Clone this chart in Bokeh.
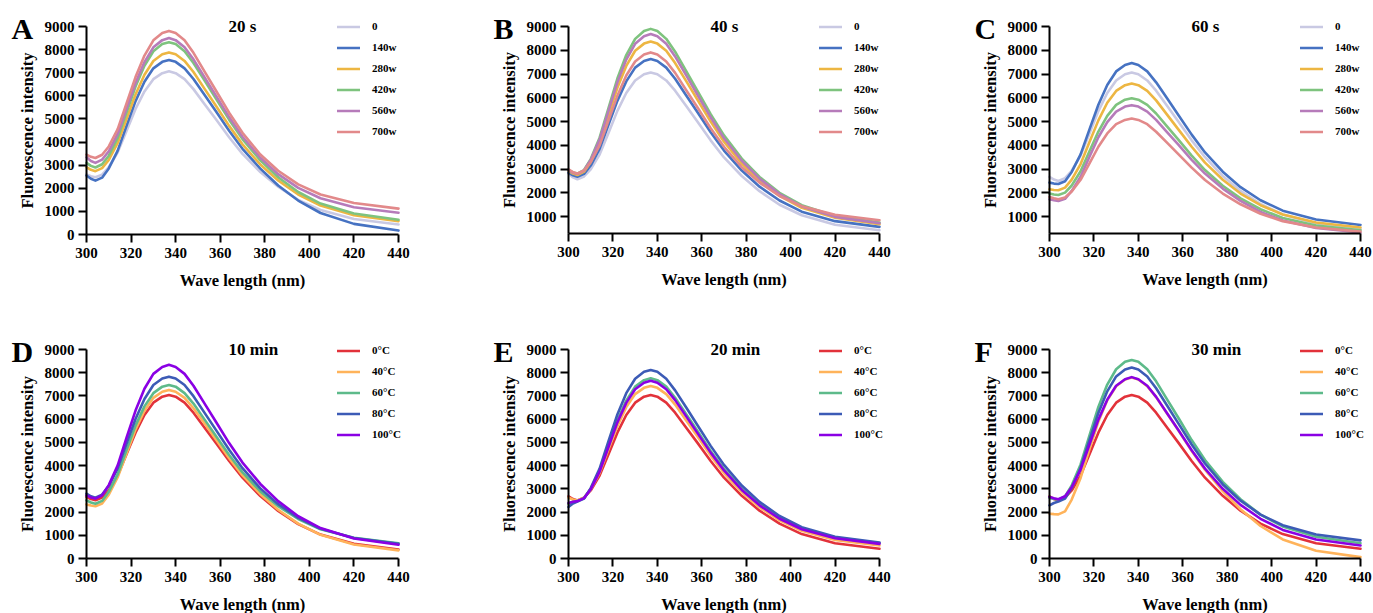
import math
from bokeh.plotting import figure
from bokeh.models import Range1d, FixedTicker, Label, Legend, LegendItem
from bokeh.layouts import row, column
from bokeh.embed import file_html
from bokeh.resources import INLINE

# ---------------- data ----------------
wavelength = [300, 302, 304, 307, 310, 314, 318, 322, 326, 330, 334, 337, 340,
              344, 348, 353, 358, 364, 370, 378, 386, 395, 405, 420, 440]

power_labels = ["0", "140w", "280w", "420w", "560w", "700w"]
temp_labels = ["0°C", "40°C", "60°C", "80°C", "100°C"]
x_ticks = [300, 320, 340, 360, 380, 400, 420, 440]
y_ticks = [0, 1000, 2000, 3000, 4000, 5000, 6000, 7000, 8000, 9000]

# Panel A: 20 s
A_0 = [2600, 2520, 2480, 2590, 2910, 3560, 4490, 5430, 6190, 6720, 6980, 7060, 6980, 6720, 6290, 5640, 5000, 4210, 3490, 2700, 2070, 1500, 1060, 670, 430]
A_140w = [2550, 2410, 2330, 2460, 2860, 3630, 4710, 5770, 6610, 7190, 7470, 7550, 7470, 7190, 6730, 6040, 5340, 4490, 3710, 2850, 2120, 1470, 930, 460, 170]
A_280w = [2910, 2800, 2740, 2870, 3230, 3960, 5010, 6060, 6910, 7510, 7800, 7880, 7800, 7510, 7030, 6300, 5580, 4700, 3900, 3030, 2340, 1730, 1250, 830, 580]
A_420w = [3100, 2970, 2900, 3040, 3410, 4180, 5290, 6400, 7300, 7930, 8240, 8320, 8240, 7930, 7420, 6660, 5890, 4970, 4130, 3210, 2480, 1840, 1340, 910, 640]
A_560w = [3340, 3180, 3100, 3240, 3600, 4350, 5450, 6550, 7460, 8100, 8410, 8500, 8410, 8100, 7580, 6800, 6020, 5080, 4230, 3320, 2610, 2020, 1570, 1180, 940]
A_700w = [3460, 3360, 3310, 3450, 3810, 4560, 5680, 6810, 7740, 8400, 8720, 8810, 8720, 8400, 7860, 7050, 6240, 5270, 4400, 3460, 2760, 2170, 1730, 1360, 1120]

# Panel B: 40 s
B_0 = [2810, 2650, 2570, 2690, 2990, 3610, 4520, 5450, 6200, 6730, 6990, 7060, 6990, 6730, 6300, 5650, 5000, 4210, 3490, 2710, 2070, 1500, 1060, 660, 430]
B_140w = [2850, 2740, 2680, 2800, 3150, 3850, 4860, 5870, 6690, 7270, 7550, 7630, 7550, 7270, 6800, 6100, 5400, 4550, 3780, 2940, 2260, 1680, 1210, 810, 570]
B_280w = [2920, 2810, 2750, 2890, 3300, 4120, 5270, 6420, 7340, 7980, 8280, 8370, 8280, 7980, 7460, 6700, 5930, 5000, 4150, 3230, 2500, 1870, 1370, 950, 680]
B_420w = [2950, 2860, 2810, 2960, 3420, 4320, 5570, 6810, 7800, 8480, 8810, 8900, 8810, 8480, 7940, 7120, 6300, 5310, 4420, 3440, 2670, 2000, 1480, 1030, 750]
B_560w = [2950, 2850, 2800, 2940, 3380, 4240, 5450, 6650, 7610, 8270, 8590, 8680, 8590, 8270, 7740, 6940, 6140, 5180, 4300, 3350, 2600, 1950, 1430, 990, 720]
B_700w = [2990, 2870, 2810, 2940, 3290, 4000, 5040, 6090, 6940, 7530, 7820, 7910, 7820, 7530, 7050, 6320, 5600, 4720, 3940, 3080, 2430, 1870, 1440, 1080, 850]

# Panel C: 60 s
C_0 = [2670, 2560, 2500, 2620, 2930, 3570, 4500, 5440, 6200, 6730, 6990, 7060, 6990, 6730, 6300, 5650, 5000, 4210, 3500, 2710, 2080, 1530, 1090, 710, 470]
C_140w = [2430, 2390, 2370, 2490, 2880, 3620, 4670, 5710, 6540, 7110, 7380, 7460, 7380, 7110, 6650, 5970, 5280, 4450, 3700, 2890, 2240, 1690, 1250, 880, 650]
C_280w = [2150, 2120, 2110, 2220, 2560, 3210, 4140, 5050, 5790, 6290, 6530, 6600, 6530, 6290, 5890, 5280, 4670, 3940, 3270, 2550, 1970, 1480, 1090, 750, 540]
C_420w = [1970, 1930, 1910, 2010, 2310, 2910, 3750, 4580, 5240, 5700, 5920, 5980, 5920, 5700, 5340, 4790, 4240, 3570, 2960, 2300, 1770, 1310, 940, 630, 430]
C_560w = [1730, 1690, 1660, 1750, 2080, 2680, 3520, 4340, 4980, 5420, 5630, 5690, 5630, 5420, 5070, 4550, 4030, 3390, 2810, 2180, 1660, 1200, 840, 520, 330]
C_700w = [1830, 1770, 1730, 1810, 2060, 2550, 3240, 3940, 4500, 4890, 5070, 5130, 5070, 4890, 4570, 4100, 3630, 3060, 2540, 1970, 1520, 1120, 810, 540, 370]

# Panel D: 10 min
D_0C = [2650, 2560, 2510, 2630, 2930, 3570, 4500, 5420, 6180, 6710, 6970, 7040, 6970, 6710, 6280, 5630, 4990, 4200, 3480, 2690, 2050, 1480, 1030, 630, 390]
D_40C = [2330, 2280, 2250, 2370, 2750, 3500, 4530, 5550, 6360, 6920, 7180, 7260, 7180, 6920, 6470, 5810, 5140, 4320, 3580, 2770, 2100, 1500, 1020, 600, 350]
D_60C = [2500, 2410, 2360, 2480, 2870, 3620, 4680, 5720, 6550, 7120, 7400, 7470, 7400, 7120, 6670, 5980, 5290, 4460, 3710, 2890, 2250, 1700, 1260, 890, 660]
D_80C = [2790, 2680, 2620, 2750, 3130, 3880, 4950, 6010, 6870, 7470, 7750, 7830, 7750, 7470, 6990, 6270, 5550, 4680, 3890, 3020, 2340, 1750, 1280, 880, 630]
D_100C = [2720, 2630, 2580, 2720, 3160, 4010, 5210, 6370, 7310, 7950, 8250, 8340, 8250, 7950, 7440, 6670, 5900, 4970, 4130, 3210, 2470, 1820, 1310, 860, 590]

# Panel E: 20 min
E_0C = [2680, 2560, 2500, 2620, 2930, 3570, 4490, 5420, 6180, 6710, 6970, 7040, 6970, 6710, 6280, 5630, 4990, 4200, 3480, 2700, 2060, 1500, 1050, 660, 420]
E_40C = [2620, 2540, 2500, 2620, 2980, 3690, 4700, 5700, 6520, 7080, 7350, 7430, 7350, 7080, 6630, 5940, 5260, 4430, 3680, 2860, 2210, 1640, 1190, 800, 560]
E_60C = [2360, 2430, 2470, 2600, 3000, 3770, 4870, 5940, 6800, 7400, 7680, 7760, 7680, 7400, 6920, 6210, 5500, 4630, 3850, 3000, 2330, 1750, 1290, 900, 660]
E_80C = [2220, 2370, 2450, 2580, 3030, 3870, 5050, 6200, 7120, 7740, 8040, 8120, 8040, 7740, 7240, 6500, 5750, 4850, 4030, 3140, 2440, 1830, 1350, 940, 690]
E_100C = [2390, 2440, 2470, 2600, 2980, 3740, 4800, 5860, 6700, 7290, 7570, 7650, 7570, 7290, 6820, 6120, 5410, 4560, 3790, 2950, 2290, 1710, 1260, 870, 630]

# Panel F: 30 min
F_0C = [2680, 2560, 2500, 2620, 2930, 3570, 4490, 5420, 6180, 6710, 6970, 7040, 6970, 6710, 6280, 5630, 4990, 4200, 3480, 2700, 2060, 1500, 1050, 660, 420]
F_40C = [1930, 1910, 1900, 2030, 2540, 3470, 4710, 5890, 6810, 7420, 7710, 7790, 7710, 7420, 6950, 6230, 5520, 4630, 3820, 2900, 2120, 1400, 820, 330, 60]
F_60C = [2610, 2560, 2530, 2670, 3150, 4050, 5300, 6530, 7490, 8150, 8470, 8550, 8470, 8150, 7630, 6840, 6060, 5100, 4240, 3300, 2550, 1890, 1380, 940, 660]
F_80C = [2290, 2390, 2450, 2580, 3040, 3910, 5110, 6270, 7200, 7840, 8140, 8220, 8140, 7840, 7330, 6580, 5820, 4910, 4090, 3190, 2490, 1890, 1430, 1030, 780]
F_100C = [2650, 2590, 2550, 2680, 3070, 3830, 4910, 5980, 6840, 7440, 7720, 7810, 7720, 7440, 6960, 6240, 5530, 4660, 3870, 3000, 2310, 1710, 1230, 820, 560]

# ---------------- styling ----------------
FONT = "Liberation Serif"
power_colors = ["#C9C9E3", "#4672C2", "#EDB642", "#7EC37E", "#B67BBA", "#E2898A"]
temp_colors = ["#E2323A", "#FFB35A", "#5DBA8A", "#3C5BB6", "#8A00E4"]


def make_panel(letter, title, names, colors, series, y_start,
               fig_w, fig_h, ax_x0, ax_x1, ax_ytop, ax_ybot):
    # the plotting frame fills the whole figure; axes are drawn at fixed data locations
    xpp = 140.0 / (ax_x1 - ax_x0)
    ypp = (9000.0 - y_start) / (ax_ybot - ax_ytop)
    x_rng = Range1d(300 - ax_x0 * xpp, 440 + (fig_w - ax_x1) * xpp)
    y_rng = Range1d(y_start - (fig_h - ax_ybot) * ypp, 9000 + ax_ytop * ypp)
    p = figure(width=fig_w, height=fig_h, x_range=x_rng, y_range=y_rng,
               output_backend="svg", toolbar_location=None, title=None,
               min_border=0, min_border_left=0, min_border_right=0,
               min_border_top=0, min_border_bottom=0)
    p.outline_line_color = None
    p.xgrid.visible = False
    p.ygrid.visible = False
    p.background_fill_color = "white"
    p.border_fill_color = "white"

    def sy(py):
        return fig_h - py

    items = []
    for name, col, ys in zip(names, colors, series):
        r = p.line(wavelength, ys, line_color=col, line_width=2.6,
                   line_join="round", line_cap="round")
        items.append(LegendItem(label=name, renderers=[r]))
    n = len(names)
    leg_top = ax_ytop - 10.5 + (0 if n == 6 else 1)
    leg = Legend(items=items, location=(ax_x0 + 251, sy(leg_top) - 21 * n),
                 padding=0, margin=0, spacing=0,
                 glyph_width=23, glyph_height=21, label_height=21,
                 label_standoff=12, border_line_color=None,
                 background_fill_alpha=0,
                 label_text_font=FONT, label_text_font_style="bold",
                 label_text_font_size="11px", label_text_color="black")
    p.add_layout(leg)

    for ax in (p.xaxis[0], p.yaxis[0]):
        ax.axis_line_width = 2
        ax.axis_line_color = "black"
        ax.major_tick_line_width = 2
        ax.major_tick_line_color = "black"
        ax.major_tick_out = 8
        ax.major_tick_in = 0
        ax.minor_tick_line_color = None
        ax.major_label_text_font = FONT
        ax.major_label_text_font_style = "bold"
        ax.major_label_text_font_size = "15px"
        ax.major_label_text_color = "black"
    p.xaxis.ticker = FixedTicker(ticks=x_ticks)
    p.yaxis.ticker = FixedTicker(ticks=[t for t in y_ticks if t >= y_start])
    p.xaxis.bounds = (300, 440)
    p.yaxis.bounds = (y_start, 9000)
    p.xaxis.fixed_location = y_start
    p.yaxis.fixed_location = 300
    p.xaxis.major_label_standoff = 5
    p.yaxis.major_label_standoff = 4

    p.add_layout(Label(x=ax_x0 - 59, y=sy((ax_ytop + ax_ybot) / 2),
                       x_units="screen", y_units="screen", angle=math.pi / 2,
                       text="Fluorescence intensity", text_align="center",
                       text_baseline="middle", text_font=FONT,
                       text_font_style="bold", text_font_size="16.5px",
                       text_color="black"))
    p.add_layout(Label(x=(ax_x0 + ax_x1) / 2, y=sy(ax_ybot + 46),
                       x_units="screen", y_units="screen",
                       text="Wave length (nm)", text_align="center",
                       text_baseline="middle", text_font=FONT,
                       text_font_style="bold", text_font_size="16.5px",
                       text_color="black"))
    p.add_layout(Label(x=ax_x0 + 142, y=sy(ax_ytop), x_units="screen", y_units="screen",
                       text=title, text_align="left", text_baseline="middle",
                       text_font=FONT, text_font_style="bold",
                       text_font_size="17px", text_color="black"))
    p.add_layout(Label(x=ax_x0 - 75, y=sy(ax_ytop + 2), x_units="screen", y_units="screen",
                       text=letter, text_align="left", text_baseline="middle",
                       text_font=FONT, text_font_style="bold",
                       text_font_size="30px", text_color="black"))
    return p


pA = make_panel("A", "20 s", power_labels, power_colors,
                [A_0, A_140w, A_280w, A_420w, A_560w, A_700w], 0,
                490, 308, 86, 398, 26, 234)
pB = make_panel("B", "40 s", power_labels, power_colors,
                [B_0, B_140w, B_280w, B_420w, B_560w, B_700w], 290,
                481, 308, 78, 389, 26, 233)
pC = make_panel("C", "60 s", power_labels, power_colors,
                [C_0, C_140w, C_280w, C_420w, C_560w, C_700w], 290,
                402, 308, 78, 389, 26, 233)
pD = make_panel("D", "10 min", temp_labels, temp_colors,
                [D_0C, D_40C, D_60C, D_80C, D_100C], 0,
                490, 305, 86, 398, 41, 250)
pE = make_panel("E", "20 min", temp_labels, temp_colors,
                [E_0C, E_40C, E_60C, E_80C, E_100C], 0,
                481, 305, 78, 389, 41, 250)
pF = make_panel("F", "30 min", temp_labels, temp_colors,
                [F_0C, F_40C, F_60C, F_80C, F_100C], 0,
                402, 305, 78, 389, 41, 250)

layout = column(row(pA, pB, pC), row(pD, pE, pF))
open("out.html", "w").write(file_html(layout, INLINE, title="Fluorescence spectra"))
